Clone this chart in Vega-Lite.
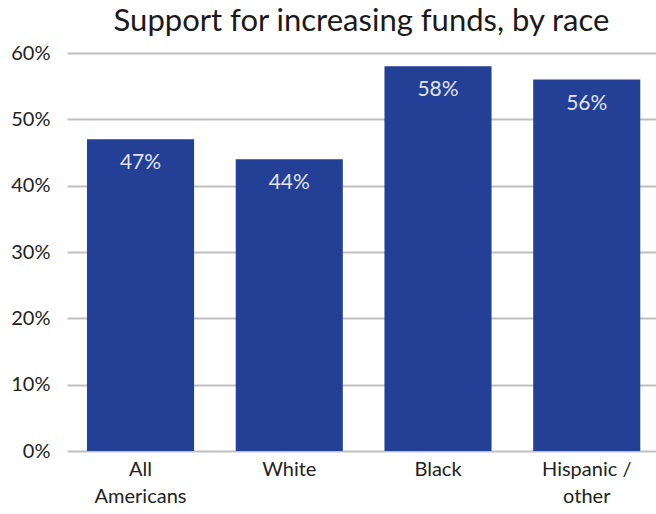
{
  "$schema": "https://vega.github.io/schema/vega-lite/v6.json",
  "width": 589,
  "height": 398,
  "autosize": {"type": "none"},
  "padding": {"left": 67, "top": 53, "right": 0, "bottom": 63},
  "background": "white",
  "title": {
    "text": "Support for increasing funds, by race",
    "font": "Lato",
    "fontSize": 31,
    "fontWeight": "normal",
    "color": "#1a1a1a",
    "anchor": "middle",
    "offset": 5
  },
  "data": {
    "values": [
      {"group": "All Americans", "pct": 0.47},
      {"group": "White", "pct": 0.44},
      {"group": "Black", "pct": 0.58},
      {"group": "Hispanic / other", "pct": 0.56}
    ]
  },
  "encoding": {
    "x": {
      "field": "group",
      "type": "nominal",
      "sort": null,
      "scale": {"paddingInner": 0.28, "paddingOuter": 0.12, "align": 0.56},
      "axis": {
        "title": null,
        "domain": false,
        "ticks": false,
        "labelAngle": 0,
        "labelFont": "Lato",
        "labelFontSize": 20,
        "labelColor": "#222222",
        "labelPadding": 8,
        "labelLineHeight": 27,
        "labelExpr": "datum.value == 'All Americans' ? ['All', 'Americans'] : datum.value == 'Hispanic / other' ? ['Hispanic /', 'other'] : datum.value"
      }
    },
    "y": {
      "field": "pct",
      "type": "quantitative",
      "scale": {"domain": [0, 0.6], "nice": false},
      "axis": {
        "title": null,
        "domain": false,
        "ticks": false,
        "values": [0, 0.1, 0.2, 0.3, 0.4, 0.5, 0.6],
        "format": ".0%",
        "labelFont": "Lato",
        "labelFontSize": 20,
        "labelColor": "#222222",
        "labelPadding": 17,
        "gridColor": "#bfbfbf",
        "gridWidth": 2
      }
    }
  },
  "layer": [
    {"mark": {"type": "bar", "color": "#233f96"}},
    {
      "mark": {"type": "text", "baseline": "top", "dy": 13, "font": "Lato", "fontSize": 21, "color": "#e0e4f0"},
      "encoding": {"text": {"field": "pct", "type": "quantitative", "format": ".0%"}}
    }
  ],
  "config": {"view": {"stroke": null}}
}
